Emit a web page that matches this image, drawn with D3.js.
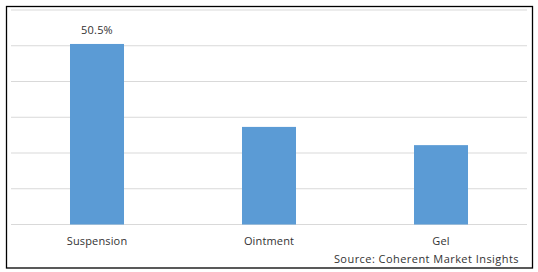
<!DOCTYPE html>
<html>
<head>
<meta charset="utf-8">
<script src="https://cdn.jsdelivr.net/npm/d3@7"></script>
<style>
    body { margin: 0; background: #fff; }
    svg { display: block; font-family: "Open Sans", sans-serif; }
</style>
</head>
<body>
<svg id="chart"></svg>
<script>
const categories = ["Suspension", "Ointment", "Gel"];
const shares = [50.5, 27.3, 22.2];
const shareLabels = ["50.5%", "", ""];
const gridTicks = [0, 10, 20, 30, 40, 50, 60];
const sourceText = "Source: Coherent Market Insights";

function drawChart() {
    const width = 538, height = 272;
    const svg = d3.select("#chart").attr("width", width).attr("height", height);

    // outer frame
    svg.append("rect")
        .attr("x", 6.5).attr("y", 6.5)
        .attr("width", 526).attr("height", 261.5)
        .attr("fill", "none")
        .attr("stroke", "#000")
        .attr("stroke-width", 1.3);

    const x = d3.scaleBand()
        .domain(categories)
        .range([11, 527])
        .paddingInner(0.686)
        .paddingOuter(0.343);

    const y = d3.scaleLinear()
        .domain([0, 60])
        .range([224.5, 10]);

    // gridlines
    svg.append("g")
        .selectAll("line")
        .data(gridTicks)
        .enter()
        .append("line")
        .attr("x1", 11).attr("x2", 527)
        .attr("y1", d => y(d)).attr("y2", d => y(d))
        .attr("stroke", "#d9d9d9")
        .attr("stroke-width", 1);

    const data = categories.map((c, i) => ({ cat: c, value: shares[i], label: shareLabels[i] }));

    svg.append("g")
        .selectAll("rect")
        .data(data)
        .enter()
        .append("rect")
        .attr("x", d => x(d.cat))
        .attr("y", d => y(d.value))
        .attr("width", x.bandwidth())
        .attr("height", d => y(0) - y(d.value))
        .attr("fill", "#5b9bd5");

    svg.append("g")
        .selectAll("text")
        .data(data)
        .enter()
        .append("text")
        .attr("x", d => x(d.cat) + x.bandwidth() / 2)
        .attr("y", d => y(d.value) - 10)
        .attr("text-anchor", "middle")
        .attr("font-size", "11px")
        .attr("letter-spacing", "0.2px")
        .attr("fill", "#333")
        .text(d => d.label);

    // category axis labels
    const xAxis = svg.append("g")
        .attr("transform", `translate(0,${y(0)})`)
        .call(d3.axisBottom(x).tickSize(0).tickPadding(13));
    xAxis.select(".domain").remove();
    xAxis.selectAll("text")
        .attr("font-family", "Open Sans, sans-serif")
        .attr("font-size", "11px")
        .attr("letter-spacing", "0.15px")
        .attr("fill", "#333");

    svg.append("text")
        .attr("x", 519)
        .attr("y", 262.5)
        .attr("text-anchor", "end")
        .attr("font-size", "11px")
        .attr("letter-spacing", "0.45px")
        .attr("fill", "#333")
        .text(sourceText);
}

document.addEventListener("DOMContentLoaded", drawChart);
</script>
</body>
</html>
